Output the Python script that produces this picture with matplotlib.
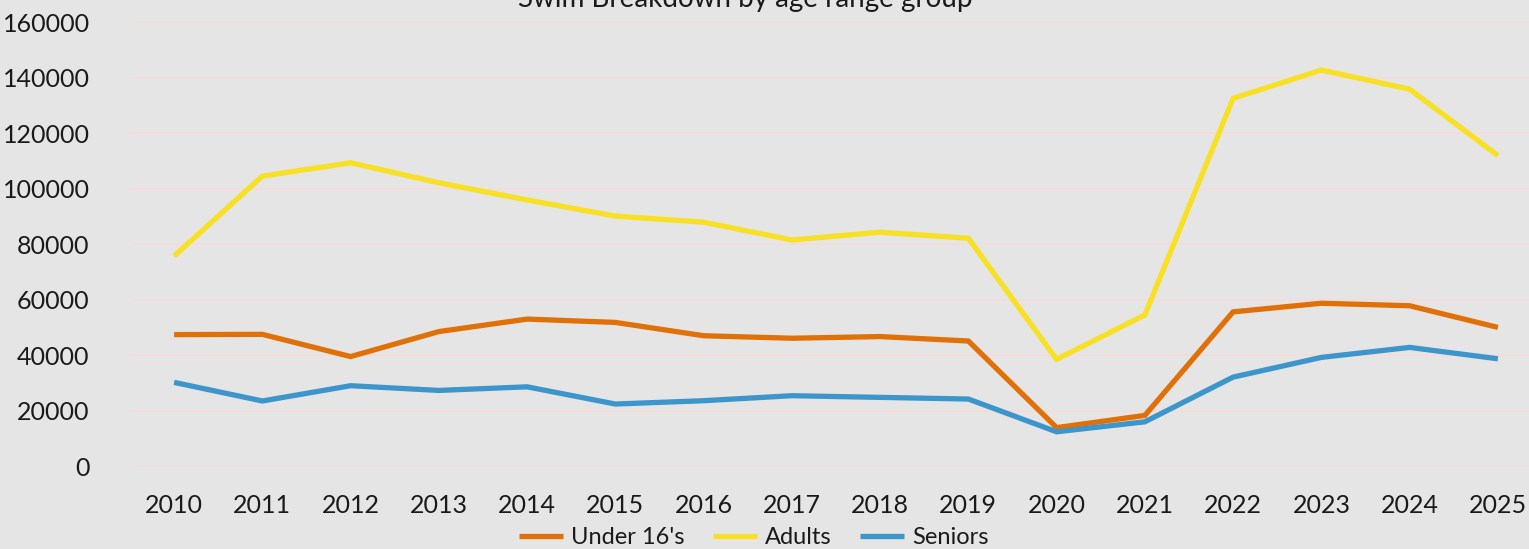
import matplotlib
matplotlib.use("Agg")
import matplotlib.pyplot as plt

years = ["2010", "2011", "2012", "2013", "2014", "2015", "2016", "2017",
         "2018", "2019", "2020", "2021", "2022", "2023", "2024", "2025"]
under16 = [47500, 47600, 39600, 48600, 53100, 51900, 47100, 46200,
           46800, 45200, 14000, 18400, 55700, 58800, 57900, 50100]
adults = [75800, 104600, 109400, 102200, 96000, 90200, 88000, 81600,
          84400, 82200, 38600, 54600, 132600, 142800, 135900, 112000]
seniors = [30300, 23600, 29100, 27400, 28700, 22500, 23700, 25500,
           24900, 24300, 12500, 16100, 32200, 39300, 42900, 38800]
yticks = [0, 20000, 40000, 60000, 80000, 100000, 120000, 140000, 160000]

W, H = 1529, 549
BG = "#E5E5E5"
FONT = "Lato"
FS = 18

plt.rcParams["font.family"] = [FONT, "DejaVu Sans"]

fig = plt.figure(figsize=(W / 100, H / 100), dpi=100, facecolor=BG)
left_px, right_px = 130, 1542
top_px, bot_px = 22.3, 466.5
ax = fig.add_axes([left_px / W, 1 - bot_px / H, (right_px - left_px) / W, (bot_px - top_px) / H])
ax.set_facecolor(BG)

x = list(range(len(years)))
lw = 3.8
ax.plot(x, under16, color="#E07008", lw=lw, label="Under 16's", solid_joinstyle="miter", solid_capstyle="butt", zorder=3)
ax.plot(x, adults, color="#F8E024", lw=lw, label="Adults", solid_joinstyle="miter", solid_capstyle="butt", zorder=3)
ax.plot(x, seniors, color="#3D96CB", lw=lw, label="Seniors", solid_joinstyle="miter", solid_capstyle="butt", zorder=3)

ax.set_xlim(-0.5, len(years) - 0.5)
ax.set_ylim(0, 160000)
ax.set_yticks(yticks)
ax.set_yticklabels([str(v) for v in yticks])
ax.set_xticks(x)
ax.set_xticklabels(years)
ax.grid(axis="y", color="#F6DCD9", lw=1.3, zorder=1)
ax.set_axisbelow(True)
for s in ax.spines.values():
    s.set_visible(False)
ax.tick_params(axis="both", length=0, labelsize=FS, colors="#1A1A1A")
ax.tick_params(axis="y", pad=29)
ax.tick_params(axis="x", pad=20)

fig.text(745 / W, 1 - 7 / H, "Swim Breakdown by age range group", ha="center", va="baseline",
         fontsize=20, color="#1A1A1A")

leg = fig.legend(loc="center", bbox_to_anchor=(754 / W, 1 - 538 / H), ncol=3, frameon=False,
                 fontsize=17, handlelength=1.85, handletextpad=0.35, columnspacing=1.2,
                 borderpad=0, borderaxespad=0)
for t in leg.get_texts():
    t.set_color("#1A1A1A")

fig.savefig("out.png", dpi=100, facecolor=BG)
